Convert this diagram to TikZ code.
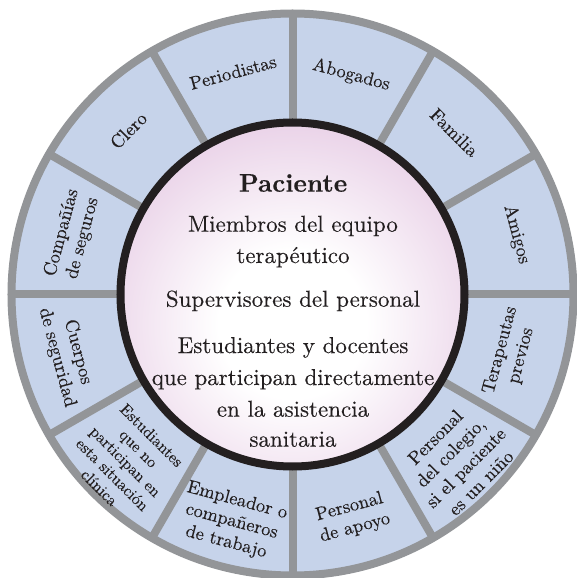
\documentclass[tikz,border=0pt]{standalone}
\usepackage{fontspec}
\setmainfont{lmroman10-regular.otf}[BoldFont=lmroman10-bold.otf, FakeBold=0.25]
\usetikzlibrary{calc}

\definecolor{ringblue}{RGB}{198,211,234}
\definecolor{rimgray}{RGB}{147,149,152}
\definecolor{corerim}{RGB}{35,31,32}
\definecolor{pinkedge}{RGB}{208,156,204}

% soft white glow fading to mauve at the rim of the central disk
\pgfdeclareradialshading{glow}{\pgfpoint{0bp}{0bp}}{%
  color(0bp)=(white); color(9bp)=(white); color(44bp)=(pinkedge); color(50bp)=(pinkedge)}

\tikzset{
  rim/.style={draw=rimgray, line width=8pt},
  divider/.style={draw=rimgray, line width=8pt},
  corering/.style={draw=corerim, line width=8pt},
  centertext/.style={anchor=base, inner sep=0pt, text=corerim,
    font=\fontsize{23}{28}\selectfont},
  titletext/.style={anchor=base, inner sep=0pt, text=corerim,
    font=\fontsize{25.5}{30}\selectfont\bfseries},
  segtext/.style={align=center, inner sep=0pt, text=corerim,
    font=\fontsize{18.5}{21.5}\selectfont},
  smallsegtext/.style={align=center, inner sep=0pt, text=corerim,
    font=\fontsize{16}{18.5}\selectfont},
}

\begin{document}
\begin{tikzpicture}[x=1pt,y=1pt]
\useasboundingbox (-292.5,-283.5) rectangle (283.5,294.5);

% outer ring of twelve segments
\fill[ringblue] (0,0) circle[radius=281pt];
\foreach \a in {0,30,...,330}
  \draw[divider] (\a:172pt) -- (\a:281pt);
\draw[rim] (0,0) circle[radius=281pt];

% central disk
\begin{scope}
  \clip (0,0) circle[radius=172pt];
  \fill[pinkedge] (0,0) circle[radius=172pt];
  \shade[shading=glow] (0,-30) circle[radius=205pt];
\end{scope}
\draw[corering] (0,0) circle[radius=172pt];

% central text
\node[titletext]  (pac) at (0.5,102.8) {Paciente};
\node[centertext] (m1)  at (0.5,62.8)  {Miembros del equipo};
\node[centertext] (m2)  at (0.5,31.5)  {terapéutico};
\node[centertext] (sp)  at (0.5,-12.2) {Supervisores del personal};
\node[centertext] (e1)  at (0.5,-58.5) {Estudiantes y docentes};
\node[centertext] (e2)  at (0.5,-90.5) {que participan directamente};
\node[centertext] (e3)  at (0.5,-122.2) {en la asistencia};
\node[centertext] (e4)  at (0.5,-152.2) {sanitaria};

% segment labels, set along the ring and kept upright
\foreach \a/\r/\t in {
    105/230/Periodistas,
    75/227/Abogados,
    45/229/Familia,
    15/232/Amigos,
    -15/226/{Terapeutas\\previos},
    -45/234/{Personal\\del colegio,\\si el paciente\\es un niño},
    -75/231/{Personal\\de apoyo},
    -105/235/{Empleador o\\compañeros\\de trabajo},
    -165/233/{Cuerpos\\de seguridad},
    165/228/{Compañías\\de seguros},
    135/232/Clero}{
  \pgfmathsetmacro{\rot}{\a>0 ? \a-90 : \a+90}
  \node[segtext, rotate=\rot] (lab\a) at (\a:\r pt) {\t};
}
\node[smallsegtext, rotate=-45] (lab-135) at (-135:236pt)
  {Estudiantes\\que no\\participan en\\esta situación\\clínica};
\end{tikzpicture}
\end{document}
